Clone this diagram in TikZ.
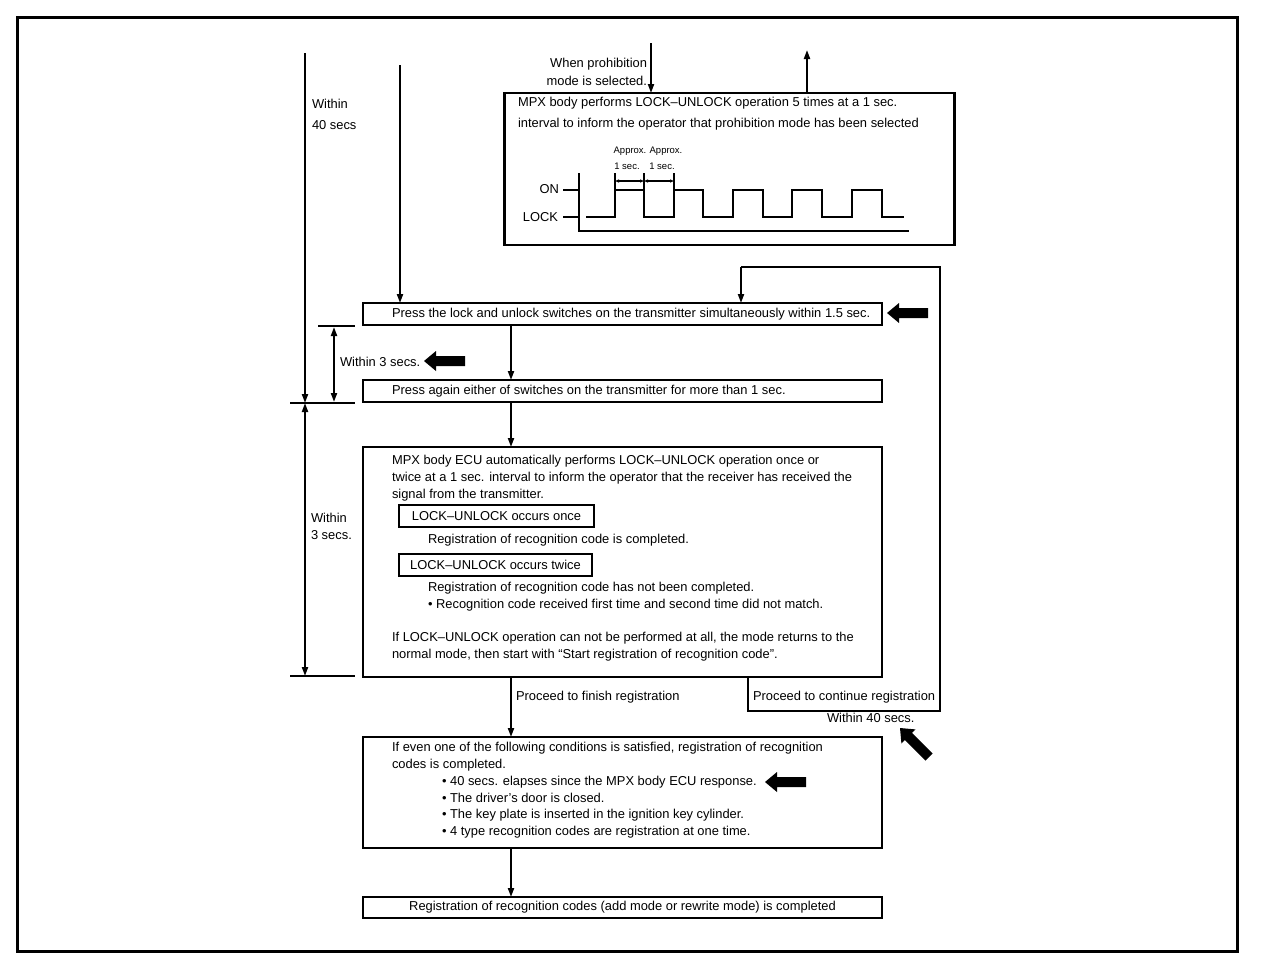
\documentclass[tikz,border=0pt]{standalone}
\usepackage{fontspec}
\setmainfont{Liberation Sans}
\usetikzlibrary{arrows.meta}
\newcommand\myfs{\fontsize{12.9}{17.5}\selectfont}
\newcommand\mysmall{\fontsize{9.5}{11}\selectfont}
\newcommand\fatarrow[3]{% tip x, tip y, rotation
  \fill[shift={(#1,#2)},rotate=#3] (0,0) -- (12,-10) -- (12,-5) -- (41,-5) -- (41,5) -- (12,5) -- (12,10) -- cycle;}
\begin{document}
\begin{tikzpicture}[x=1pt,y=-1pt,line width=2pt,
  box/.style={draw,line width=2.4pt,inner sep=0,outer sep=0},
  subbox/.style={draw,line width=1.5pt,inner sep=0,outer sep=0,minimum height=22,font=\myfs},
  txt/.style={anchor=west,inner sep=0,font=\myfs},
  stxt/.style={inner sep=0,font=\mysmall},
  arr/.style={-{Triangle[length=9pt,width=6pt]}},
  darr/.style={{Triangle[length=9pt,width=6pt]}-{Triangle[length=9pt,width=6pt]}},
  thin/.style={line width=1.2pt}]
\useasboundingbox (0,0) rectangle (1264,972);
\node[draw,line width=3pt,inner sep=0,minimum width=1220,minimum height=934] (frame) at (627,484) {};

% prohibition box
\node[box,minimum width=450,minimum height=152] (pb) at (729.5,169) {};
\node[txt] (pt1) at (517,103) {MPX body performs LOCK--UNLOCK operation 5 times at a 1 sec.};
\node[txt] (pt2) at (517,124) {interval to inform the operator that prohibition mode has been selected};
\coordinate (pin) at (651,43);
\coordinate (pout) at (807,50);
\draw[arr] (pin) -- (pin |- pb.north);
\draw[arr] (pout |- pb.north) -- (pout);
\node[inner sep=0,font=\myfs,align=right,anchor=east] (pl) at (648,72) {When prohibition\\mode is selected.};

% timing chart
\coordinate (ax0) at (579,173);
\coordinate (ax1) at (579,231);
\coordinate (ax2) at (909,231);
\draw (ax0) -- (ax1) -- (ax2);
\draw (563,190) -- (578,190);
\draw (563,217) -- (578,217);
\node[inner sep=0,font=\myfs,anchor=east] (on) at (560,189) {ON};
\node[inner sep=0,font=\myfs,anchor=east] (lock) at (559,217) {LOCK};
\draw (586,217) -- (615,217) -- (615,190) -- (644,190) -- (644,217) -- (674,217) -- (674,190)
  -- (703,190) -- (703,217) -- (733,217) -- (733,190) -- (763,190) -- (763,217) -- (792,217)
  -- (792,190) -- (822,190) -- (822,217) -- (852,217) -- (852,190) -- (882,190) -- (882,217) -- (904,217);
\draw[thin] (615,173) -- (615,190) (644,173) -- (644,190) (674,173) -- (674,190);
\draw[thin,{Triangle[length=4pt,width=3pt]}-{Triangle[length=4pt,width=3pt]}] (615,181) -- (644,181);
\draw[thin,{Triangle[length=4pt,width=3pt]}-{Triangle[length=4pt,width=3pt]}] (644,181) -- (674,181);
\node[stxt] (ap1) at (630,151) {Approx.};
\node[stxt] (ap2) at (666,151) {Approx.};
\node[stxt] (se1) at (627,166) {1 sec.};
\node[stxt] (se2) at (662,166) {1 sec.};

% left time lines
\coordinate (la0) at (305,53);
\coordinate (la1) at (305,403);
\coordinate (la2) at (305,676);
\coordinate (lb0) at (400,65);
\draw[arr] (la0) -- (la1);
\node[txt] (w40a) at (311,104) {Within};
\node[txt] (w40b) at (311,125) {40 secs};

% box 1
\node[box,minimum width=519,minimum height=22] (b1) at (622.5,314) {};
\node[txt] (b1t) at (391,314) {Press the lock and unlock switches on the transmitter simultaneously within 1.5 sec.};
\draw[arr] (lb0) -- (lb0 |- b1.north);
\fatarrow{887}{313}{0}

% within 3 secs (1)
\draw[thin] (318,326) -- (355,326);
\draw[thin] (290,403) -- (355,403);
\draw[darr] (334,327) -- (334,402);
\node[txt] (w3) at (339,362) {Within 3 secs.};
\fatarrow{424}{361}{0}

% box 2
\node[box,minimum width=519,minimum height=22] (b2) at (622.5,391) {};
\node[txt] (b2t) at (391,391) {Press again either of switches on the transmitter for more than 1 sec.};
\draw[arr] (b1.south -| 511,0) -- (b2.north -| 511,0);

% box 3
\node[box,minimum width=519,minimum height=230] (b3) at (622.5,562) {};
\draw[arr] (b2.south -| 511,0) -- (b3.north -| 511,0);
\node[txt] (b3t1) at (391,461) {MPX body ECU automatically performs LOCK--UNLOCK operation once or};
\node[txt] (b3t2) at (391,478) {twice at a 1 sec. interval to inform the operator that the receiver has received the};
\node[txt] (b3t3) at (391,495) {signal from the transmitter.};
\node[subbox,minimum width=195] (s1) at (496.5,516) {LOCK--UNLOCK occurs once};
\node[txt] (b3t4) at (427,540) {Registration of recognition code is completed.};
\node[subbox,minimum width=193] (s2) at (495.5,565) {LOCK--UNLOCK occurs twice};
\node[txt] (b3t5) at (427,588) {Registration of recognition code has not been completed.};
\node[txt] (b3t6) at (427,605) {\textbullet\ Recognition code received first time and second time did not match.};
\node[txt] (b3t7) at (391,638) {If LOCK--UNLOCK operation can not be performed at all, the mode returns to the};
\node[txt] (b3t8) at (391,655) {normal mode, then start with \textquotedblleft Start registration of recognition code\textquotedblright.};

% within 3 secs (2)
\draw[thin] (290,676) -- (355,676);
\draw[darr] (la1) -- (la2);
\node[txt] (w3a) at (310,518) {Within};
\node[txt] (w3b) at (310,535) {3 secs.};

% loop back
\coordinate (lp1) at (748,711);
\coordinate (lp2) at (940,711);
\coordinate (lp3) at (940,267);
\coordinate (lp4) at (741,267);
\draw (b3.south -| lp1) -- (lp1) -- (lp2) -- (lp3) -- (lp4);
\draw[arr] (lp4) -- (lp4 |- b1.north);
\node[txt] (pc) at (752,697) {Proceed to continue registration};
\node[txt] (w40c) at (826,718) {Within 40 secs.};
\fatarrow{900}{728}{-45}

% box 4
\node[box,minimum width=519,minimum height=111] (b4) at (622.5,792.5) {};
\draw[arr] (b3.south -| 511,0) -- (b4.north -| 511,0);
\node[txt] (pf) at (515,697) {Proceed to finish registration};
\node[txt] (b4t1) at (391,748) {If even one of the following conditions is satisfied, registration of recognition};
\node[txt] (b4t2) at (391,765) {codes is completed.};
\node[txt] (b4t3) at (441,782) {\textbullet\ 40 secs. elapses since the MPX body ECU response.};
\node[txt] (b4t4) at (441,798) {\textbullet\ The driver's door is closed.};
\node[txt] (b4t5) at (441,815) {\textbullet\ The key plate is inserted in the ignition key cylinder.};
\node[txt] (b4t6) at (441,832) {\textbullet\ 4 type recognition codes are registration at one time.};
\fatarrow{765}{782}{0}

% box 5
\node[box,minimum width=519,minimum height=21,font=\myfs] (b5) at (622.5,907.5) {Registration of recognition codes (add mode or rewrite mode) is completed};
\draw[arr] (b4.south -| 511,0) -- (b5.north -| 511,0);
\end{tikzpicture}
\end{document}
